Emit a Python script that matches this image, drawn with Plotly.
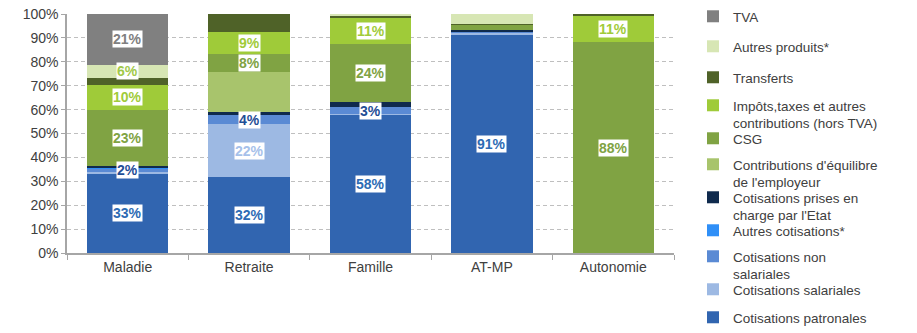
import plotly.graph_objects as go

# ---------------- data ----------------
categories = ["Maladie", "Retraite", "Famille", "AT-MP", "Autonomie"]

series_names = [
    "Cotisations patronales",
    "Cotisations salariales",
    "Cotisations non<br>salariales",
    "Autres cotisations*",
    "Cotisations prises en<br>charge par l'Etat",
    "Contributions d'équilibre<br>de l'employeur",
    "CSG",
    "Impôts,taxes et autres<br>contributions (hors TVA)",
    "Transferts",
    "Autres produits*",
    "TVA",
]

patronales = [33.4, 31.9, 57.8, 91.3, 0.0]
salariales = [0.5, 21.9, 0.2, 0.8, 0.0]
non_salariales = [1.6, 4.0, 3.1, 0.6, 0.0]
autres_cotisations = [0.4, 0.0, 0.0, 0.0, 0.0]
prises_en_charge_etat = [0.7, 1.3, 2.1, 0.8, 0.0]
contrib_equilibre = [0.0, 16.5, 0.0, 0.0, 0.0]
csg = [23.4, 7.8, 24.2, 1.9, 88.2]
impots_taxes = [10.4, 9.2, 11.1, 0.0, 11.1]
transferts = [2.8, 7.4, 0.5, 0.6, 0.7]
autres_produits = [5.6, 0.0, 1.0, 4.0, 0.0]
tva = [21.2, 0.0, 0.0, 0.0, 0.0]

series_values = [patronales, salariales, non_salariales, autres_cotisations,
                 prises_en_charge_etat, contrib_equilibre, csg, impots_taxes,
                 transferts, autres_produits, tva]

series_colors = ["#3165B0", "#9DB9E3", "#5A8AD4", "#2F8FF7", "#0F2A4D",
                 "#A8C46C", "#80A343", "#9FCB39", "#4F6228", "#D7E6B4", "#808080"]

label_colors = ["#2D6BB4", "#A6C1EA", "#1F4E96", "#1F4E96", "#1F4E96",
                "#80A343", "#80A343", "#A1CB3A", "#4F6228", "#A1C94A", "#808080"]

# which segments carry a data label: (category index, series index)
labelled = [(0, 0), (0, 2), (0, 6), (0, 7), (0, 9), (0, 10),
            (1, 0), (1, 1), (1, 2), (1, 6), (1, 7),
            (2, 0), (2, 2), (2, 6), (2, 7),
            (3, 0),
            (4, 6), (4, 7)]

y_ticks = list(range(0, 101, 10))
y_tick_text = [f"{v}%" for v in y_ticks]

# ---------------- layout geometry ----------------
W, H = 917, 333
ML, MR, MT, MB = 67, 243, 14, 80
PW, PH = W - ML - MR, H - MT - MB

# legend rows: pixel y of the marker (first text line) for each series
legend_row_px = [317, 289, 256, 230, 197, 164, 138, 105, 77, 46, 16]
legend_text_left_px = 693
legend_top_offset = 15.0

FONT = "Arial, 'Liberation Sans', sans-serif"

fig = go.Figure()
for i, (name, vals, col) in enumerate(zip(series_names, series_values, series_colors)):
    lg = "legend" if i == 0 else f"legend{i + 1}"
    fig.add_trace(go.Bar(
        x=categories, y=vals, name=name, marker_color=col,
        marker_line_width=0, legend=lg, hoverinfo="skip", showlegend=True,
    ))

# data labels
annotations = []
for ci, si in labelled:
    base = sum(series_values[k][ci] for k in range(si))
    v = series_values[si][ci]
    annotations.append(dict(
        x=categories[ci], y=base + v / 2, xref="x", yref="y",
        text=f"<b>{round(v)}%</b>", showarrow=False,
        font=dict(family=FONT, size=14, color=label_colors[si]),
        bgcolor="white", borderpad=0,
    ))

legends = {}
for i, ypx in enumerate(legend_row_px):
    key = "legend" if i == 0 else f"legend{i + 1}"
    legends[key] = dict(
        x=(legend_text_left_px - ML) / PW,
        y=(H - MB - (ypx - legend_top_offset)) / PH,
        xanchor="left", yanchor="top",
        bgcolor="rgba(0,0,0,0)", borderwidth=0,
        font=dict(family=FONT, size=13.5, color="#404040"),
        valign="top", itemclick=False, itemdoubleclick=False,
    )

fig.update_layout(
    width=W, height=H, showlegend=True,
    margin=dict(l=ML, r=MR, t=MT, b=MB, pad=0, autoexpand=False),
    barmode="stack", bargap=0.33,
    plot_bgcolor="white", paper_bgcolor="white",
    font=dict(family=FONT, size=14, color="#404040"),
    annotations=annotations,
    xaxis=dict(
        showline=True, linecolor="#A6A6A6", linewidth=1.5,
        ticks="outside", tickson="boundaries", ticklen=5, tickcolor="#A6A6A6",
        tickfont=dict(family=FONT, size=14, color="#404040"),
        showgrid=False,
    ),
    yaxis=dict(
        range=[0, 100], tickvals=y_ticks, ticktext=y_tick_text,
        showline=True, linecolor="#A6A6A6", linewidth=1.5,
        ticks="outside", ticklen=4, tickcolor="#A6A6A6",
        showgrid=True, gridcolor="#BFBFBF", gridwidth=1.2, griddash="4px,3px",
        zeroline=False,
        tickfont=dict(family=FONT, size=14, color="#404040"),
    ),
    **legends,
)

fig.write_html("out.html")
